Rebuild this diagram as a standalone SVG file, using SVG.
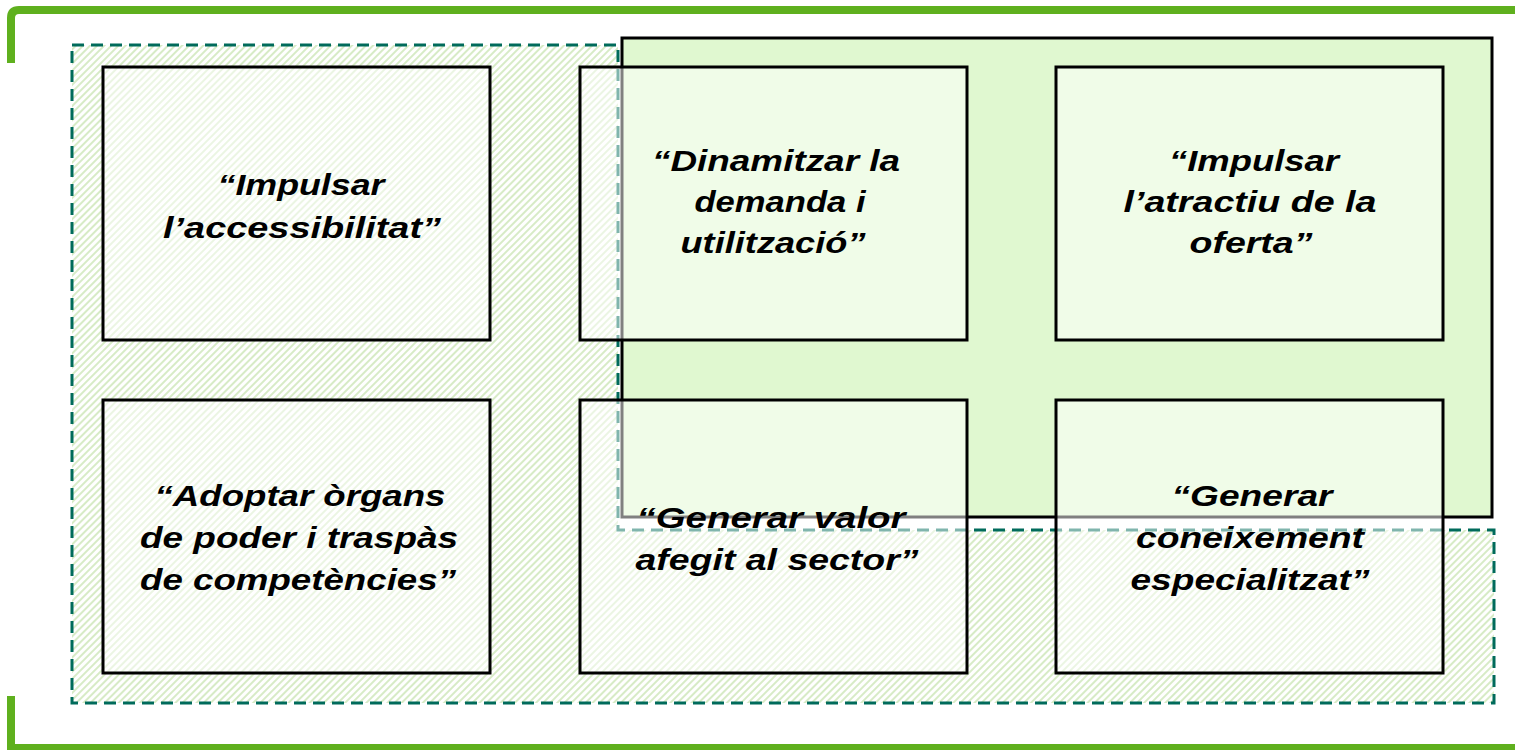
<svg xmlns="http://www.w3.org/2000/svg" width="1515" height="750" viewBox="0 0 1515 750">
<style>
.bracket{fill:none;stroke:#5fb01e;stroke-width:8;stroke-linejoin:round}
.zone{fill:url(#hatch);stroke:#006b5b;stroke-width:3;stroke-dasharray:12 7}
.core{fill:#e0f8d0;stroke:#000;stroke-width:3}
.box{fill:#fff;fill-opacity:0.5;stroke:#000;stroke-width:3}
.lbl{font-family:"Liberation Sans",Arial,sans-serif;font-weight:bold;font-style:italic;font-size:30px;fill:#000;text-anchor:middle}
</style>
<defs>
<pattern id="hatch" patternUnits="userSpaceOnUse" width="5" height="5" patternTransform="rotate(45)">
<rect x="0" y="0" width="5" height="5" fill="#fff"/>
<line x1="1" y1="0" x2="1" y2="5" stroke="#cde6b8" stroke-width="1.6"/>
</pattern>
</defs>
<g id="frame">
<path class="bracket" d="M11,63 V18 Q11,10 19,10 H1515"/>
<path class="bracket" style="stroke-linejoin:miter" d="M11,696 V748 H1515"/>
</g>
<g id="zone-hatched">
<path class="zone" d="M72,45 H618 V530 H1494 V703 H72 Z"/>
</g>
<g id="zone-core">
<rect class="core" x="622" y="38" width="870" height="479"/>
</g>
<g id="node-accessibilitat">
<rect class="box" x="103" y="67" width="387" height="273"/>
<text class="lbl" x="301" y="195" textLength="167" lengthAdjust="spacingAndGlyphs">“Impulsar</text>
<text class="lbl" x="302" y="238" textLength="278" lengthAdjust="spacingAndGlyphs">l’accessibilitat”</text>
</g>
<g id="node-demanda">
<rect class="box" x="580" y="67" width="387" height="273"/>
<text class="lbl" x="776" y="171" textLength="248" lengthAdjust="spacingAndGlyphs">“Dinamitzar la</text>
<text class="lbl" x="780" y="212" textLength="171" lengthAdjust="spacingAndGlyphs">demanda i</text>
<text class="lbl" x="773" y="253" textLength="185" lengthAdjust="spacingAndGlyphs">utilització”</text>
</g>
<g id="node-oferta">
<rect class="box" x="1056" y="67" width="387" height="273"/>
<text class="lbl" x="1254" y="171" textLength="170" lengthAdjust="spacingAndGlyphs">“Impulsar</text>
<text class="lbl" x="1250" y="212" textLength="253" lengthAdjust="spacingAndGlyphs">l’atractiu de la</text>
<text class="lbl" x="1251" y="253" textLength="123" lengthAdjust="spacingAndGlyphs">oferta”</text>
</g>
<g id="node-organs">
<rect class="box" x="103" y="400" width="387" height="273"/>
<text class="lbl" x="300" y="506" textLength="291" lengthAdjust="spacingAndGlyphs">“Adoptar òrgans</text>
<text class="lbl" x="299" y="548" textLength="318" lengthAdjust="spacingAndGlyphs">de poder i traspàs</text>
<text class="lbl" x="298" y="590" textLength="316" lengthAdjust="spacingAndGlyphs">de competències”</text>
</g>
<g id="node-valor">
<rect class="box" x="580" y="400" width="387" height="273"/>
<text class="lbl" x="771" y="528" textLength="269" lengthAdjust="spacingAndGlyphs">“Generar valor</text>
<text class="lbl" x="777" y="570" textLength="283" lengthAdjust="spacingAndGlyphs">afegit al sector”</text>
</g>
<g id="node-coneixement">
<rect class="box" x="1056" y="400" width="387" height="273"/>
<text class="lbl" x="1252" y="506" textLength="161" lengthAdjust="spacingAndGlyphs">“Generar</text>
<text class="lbl" x="1250" y="548" textLength="228" lengthAdjust="spacingAndGlyphs">coneixement</text>
<text class="lbl" x="1250" y="590" textLength="239" lengthAdjust="spacingAndGlyphs">especialitzat”</text>
</g>
</svg>
